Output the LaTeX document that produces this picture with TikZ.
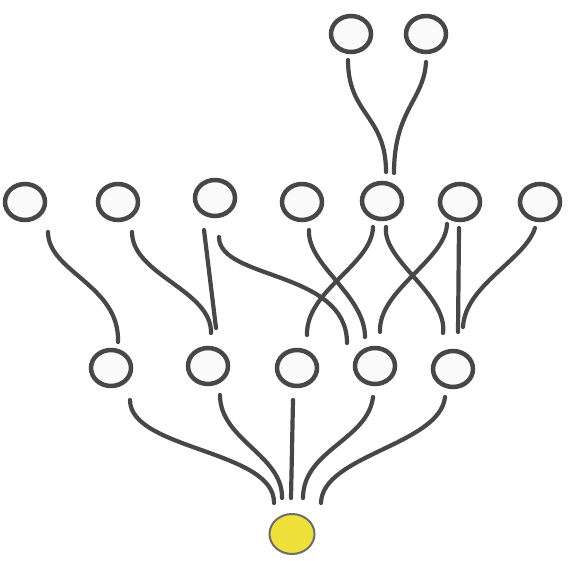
\documentclass[tikz,border=0pt]{standalone}
\usetikzlibrary{shapes.geometric,calc}
\definecolor{ink}{HTML}{474747}
\definecolor{nodefill}{HTML}{FAFAFA}
\definecolor{rootfill}{HTML}{EFE13A}
\tikzset{
  bub/.style={ellipse,draw=ink,line width=4.5pt,fill=nodefill,minimum width=40pt,minimum height=36pt,inner sep=0pt},
  rootbub/.style={ellipse,draw=ink!80,line width=2pt,fill=rootfill,minimum width=45pt,minimum height=40pt,inner sep=0pt},
  conn/.style={draw=ink,line width=4.2pt,line cap=round}
}
\begin{document}
\begin{tikzpicture}[x=1pt,y=-1pt]
\useasboundingbox[fill=white] (0,0) rectangle (578,561);
% top row
\node[bub] (t1) at (351,34) {};
\node[bub] (t2) at (426,34) {};
% middle row
\node[bub] (m1) at (25,202) {};
\node[bub] (m2) at (118,202) {};
\node[bub] (m3) at (215,198) {};
\node[bub] (m4) at (302,202) {};
\node[bub] (m5) at (382,201) {};
\node[bub] (m6) at (460,202) {};
\node[bub] (m7) at (540,202) {};
% lower row
\node[bub] (b1) at (111,368) {};
\node[bub] (b2) at (208,366) {};
\node[bub] (b3) at (297,368) {};
\node[bub] (b4) at (375,366) {};
\node[bub] (b5) at (453,369) {};
% root
\node[rootbub] (root) at (292,534) {};
% top connectors
\draw[conn] ($(t1)+(-3,26)$) .. controls +(0,55) and +(0,-57) .. ($(m5)+(4,-29)$);
\draw[conn] ($(t2)+(0,28)$) .. controls +(-2,38) and +(0,-63) .. ($(m5)+(12,-28)$);
% middle to lower
\draw[conn] ($(m1)+(23,30)$) .. controls +(0,40) and +(2,-57) .. ($(b1)+(7,-26)$);
\draw[conn] ($(m2)+(14,30)$) .. controls +(0,43) and +(1,-43) .. ($(b2)+(3,-33)$);
\draw[conn] ($(m3)+(-11,32)$) -- ($(b2)+(8,-38)$);
\draw[conn] ($(m3)+(4,39)$) .. controls +(0,43) and +(0,-73) .. ($(b4)+(-28,-23)$);
\draw[conn] ($(m4)+(7,28)$) .. controls +(-2,35) and +(0,-42) .. ($(b4)+(-10,-29)$);
\draw[conn] ($(m5)+(-9,26)$) .. controls +(-1,38) and +(-1,-45) .. ($(b3)+(10,-33)$);
\draw[conn] ($(m5)+(4,26)$) .. controls +(-4,33) and +(5,-38) .. ($(b5)+(-10,-36)$);
\draw[conn] ($(m6)+(-13,22)$) .. controls +(-1,36) and +(-2,-42) .. ($(b4)+(5,-34)$);
\draw[conn] ($(m6)+(-1,26)$) -- ($(b5)+(5,-37)$);
\draw[conn] ($(m7)+(-5,26)$) .. controls +(-10,32) and +(2,-42) .. ($(b5)+(10,-42)$);
% lower to root
\draw[conn] ($(b1)+(19,32)$) .. controls +(0,50) and +(1,-53) .. ($(root)+(-18,-31)$);
\draw[conn] ($(b2)+(12,29)$) .. controls +(0,45) and +(1,-43) .. ($(root)+(-10,-36)$);
\draw[conn] ($(b3)+(-4,32)$) -- ($(root)+(-1,-36)$);
\draw[conn] ($(b4)+(-2,31)$) .. controls +(-5,43) and +(0,-48) .. ($(root)+(11,-36)$);
\draw[conn] ($(b5)+(-8,28)$) .. controls +(-5,48) and +(1,-48) .. ($(root)+(29,-31)$);
\end{tikzpicture}
\end{document}
